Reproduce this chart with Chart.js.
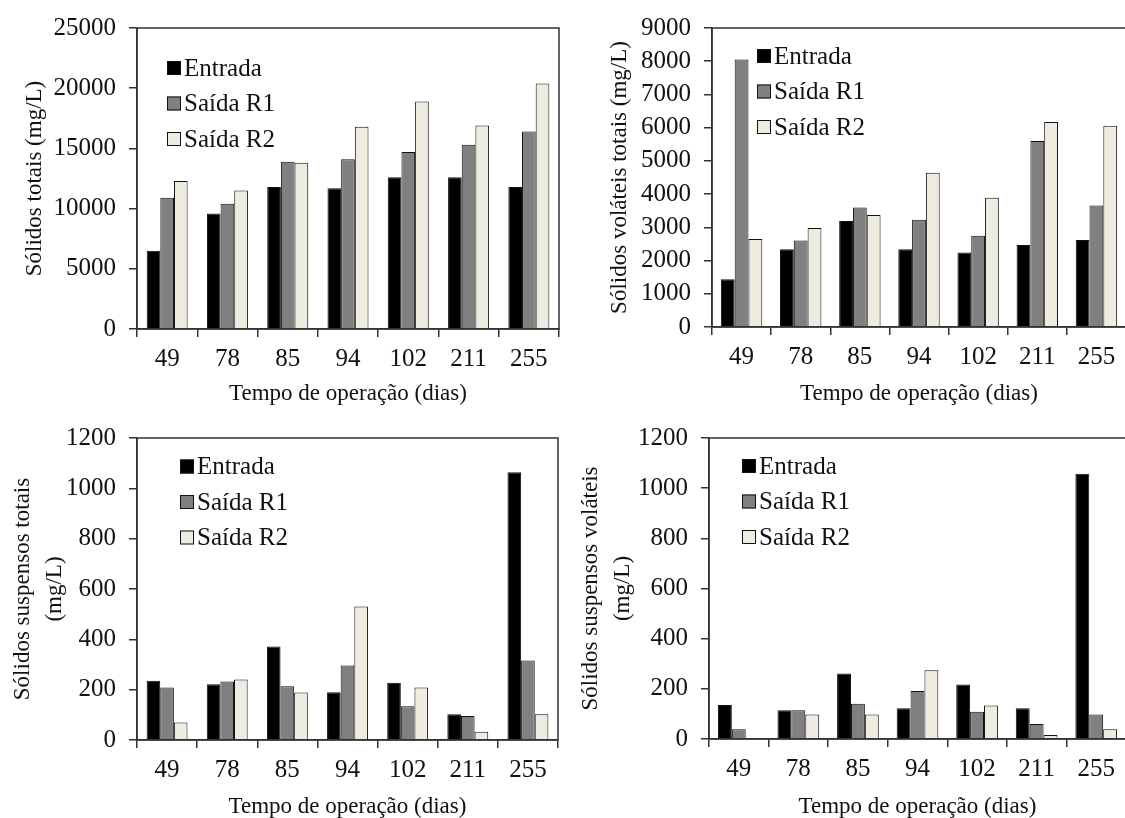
<!DOCTYPE html>
<html>
<head>
<meta charset="utf-8">
<script src="https://cdn.jsdelivr.net/npm/chart.js@4.4.1/dist/chart.umd.min.js"></script>
<style>
  html, body { margin: 0; padding: 0; background: #fff; overflow: hidden; }
  #wrap { position: relative; width: 1125px; height: 818px; font-family: "Liberation Serif", "Times New Roman", serif; }
  canvas { position: absolute; }
</style>
</head>
<body>
<div id="wrap">
  <canvas id="st" width="562" height="410" style="left:0;top:0"></canvas>
  <canvas id="svt" width="570" height="410" style="left:562px;top:0"></canvas>
  <canvas id="sst" width="562" height="412" style="left:0;top:410px"></canvas>
  <canvas id="ssv" width="570" height="412" style="left:562px;top:410px"></canvas>
</div>
<script>
// tempo de operação (dias)
var dias = ['49', '78', '85', '94', '102', '211', '255'];

// sólidos totais (mg/L)
var stEntrada = [6500, 9600, 11800, 11700, 12600, 12600, 11800];
var stR1 = [10900, 10400, 13900, 14100, 14700, 15300, 16400];
var stR2 = [12300, 11500, 13800, 16800, 18900, 16900, 20400];

// sólidos voláteis totais (mg/L)
var svtEntrada = [1440, 2340, 3190, 2340, 2240, 2470, 2620];
var svtR1 = [8050, 2600, 3600, 3230, 2750, 5600, 3660];
var svtR2 = [2650, 2980, 3370, 4640, 3890, 6170, 6060];

// sólidos suspensos totais (mg/L)
var sstEntrada = [235, 222, 372, 190, 227, 102, 1064];
var sstR1 = [209, 232, 214, 296, 134, 95, 316];
var sstR2 = [70, 240, 189, 530, 209, 33, 102];

// sólidos suspensos voláteis (mg/L)
var ssvEntrada = [136, 115, 261, 123, 217, 123, 1057];
var ssvR1 = [39, 115, 141, 191, 109, 60, 98];
var ssvR2 = [0, 98, 98, 274, 134, 16, 39];

var serieNomes = ['Entrada', 'Saída R1', 'Saída R2'];
var serieCores = ['#000000', '#808080', '#eeebe0'];

var fontFamily = '"Liberation Serif", "Times New Roman", "DejaVu Serif", serif';
Chart.defaults.font.family = fontFamily;
Chart.defaults.font.size = 25;
Chart.defaults.color = '#111111';

var lineColor = '#333333';

// box around the plot area
var frame = {
  id: 'frame',
  afterDatasetsDraw: function(chart) {
    var a = chart.chartArea, ctx = chart.ctx;
    ctx.save();
    ctx.strokeStyle = lineColor;
    ctx.lineWidth = 1.5;
    ctx.strokeRect(a.left, a.top, a.right - a.left, a.bottom - a.top);
    ctx.restore();
  }
};

// legend drawn inside the plot, top left
var boxLegend = {
  id: 'boxLegend',
  afterDraw: function(chart, args, opts) {
    var ctx = chart.ctx, a = chart.chartArea;
    ctx.save();
    ctx.font = '25px ' + fontFamily;
    ctx.textBaseline = 'middle';
    ctx.textAlign = 'left';
    chart.data.datasets.forEach(function(ds, i) {
      var x = a.left + opts.x;
      var y = a.top + opts.y + i * opts.gap;
      ctx.fillStyle = ds.backgroundColor;
      ctx.fillRect(x, y - 7, 14, 14);
      ctx.strokeStyle = '#111';
      ctx.lineWidth = 1;
      ctx.strokeRect(x + 0.5, y - 6.5, 13, 13);
      ctx.fillStyle = '#111';
      ctx.fillText(ds.label, x + 17, y + 1);
    });
    ctx.restore();
  }
};

function makePanel(id, series, p) {
  var datasets = series.map(function(vals, i) {
    return {
      label: serieNomes[i],
      data: vals,
      backgroundColor: serieCores[i],
      borderColor: '#111111',
      borderWidth: 1,
      categoryPercentage: p.catPct,
      barPercentage: 1.0
    };
  });

  return new Chart(document.getElementById(id), {
    type: 'bar',
    data: { labels: dias, datasets: datasets },
    plugins: [frame, boxLegend],
    options: {
      responsive: false,
      animation: false,
      devicePixelRatio: 1,
      layout: { padding: { left: 0, right: p.padRight, top: p.padTop, bottom: 0 } },
      plugins: {
        legend: { display: false },
        tooltip: { enabled: false },
        boxLegend: { x: p.legX, y: p.legY, gap: 35.5 }
      },
      scales: {
        x: {
          grid: { drawOnChartArea: false, drawTicks: true, tickLength: 8, color: lineColor, lineWidth: 1.5 },
          border: { color: lineColor, width: 1.5 },
          ticks: { padding: 7, maxRotation: 0, autoSkip: false },
          title: { display: true, text: 'Tempo de operação (dias)', font: { size: 23 }, padding: { top: 0, bottom: p.xTitlePad } },
          afterFit: function(s) { s.height = p.xHeight; }
        },
        y: {
          min: 0,
          max: p.max,
          grid: { drawOnChartArea: false, drawTicks: true, tickLength: 8, color: lineColor, lineWidth: 1.5 },
          border: { color: lineColor, width: 1.5 },
          ticks: { stepSize: p.step, padding: 13, format: { useGrouping: false } },
          title: { display: true, text: p.yTitle, font: { size: 23, lineHeight: 1.4 }, padding: { top: p.yTitlePad, bottom: 0 } },
          afterFit: function(s) { s.width = p.yWidth; }
        }
      }
    }
  });
}

function drawAll() {
  makePanel('st', [stEntrada, stR1, stR2], {
    max: 25000, step: 5000, yTitle: 'Sólidos totais (mg/L)',
    yWidth: 137, xHeight: 81, padTop: 22, padRight: 3, catPct: 0.68,
    yTitlePad: 19, xTitlePad: 2, legX: 30, legY: 40
  });

  makePanel('svt', [svtEntrada, svtR1, svtR2], {
    max: 9000, step: 1000, yTitle: 'Sólidos voláteis totais (mg/L)',
    yWidth: 150, xHeight: 83, padTop: 22, padRight: 6, catPct: 0.70,
    yTitlePad: 42, xTitlePad: 2, legX: 45, legY: 28
  });

  makePanel('sst', [sstEntrada, sstR1, sstR2], {
    max: 1200, step: 200, yTitle: ['Sólidos suspensos totais', '(mg/L)'],
    yWidth: 137, xHeight: 82, padTop: 24, padRight: 4, catPct: 0.68,
    yTitlePad: 7, xTitlePad: 1, legX: 43, legY: 28.5
  });

  makePanel('ssv', [ssvEntrada, ssvR1, ssvR2], {
    max: 1200, step: 200, yTitle: ['Sólidos suspensos voláteis', '(mg/L)'],
    yWidth: 147, xHeight: 83, padTop: 24, padRight: 6, catPct: 0.70,
    yTitlePad: 13, xTitlePad: 1, legX: 33, legY: 28
  });
}

// make sure the serif face is ready before the canvases draw text
if (document.fonts && document.fonts.load) {
  Promise.all([
    document.fonts.load('25px "Liberation Serif"'),
    document.fonts.load('23px "Liberation Serif"')
  ]).then(drawAll, drawAll);
} else {
  drawAll();
}
</script>
</body>
</html>
